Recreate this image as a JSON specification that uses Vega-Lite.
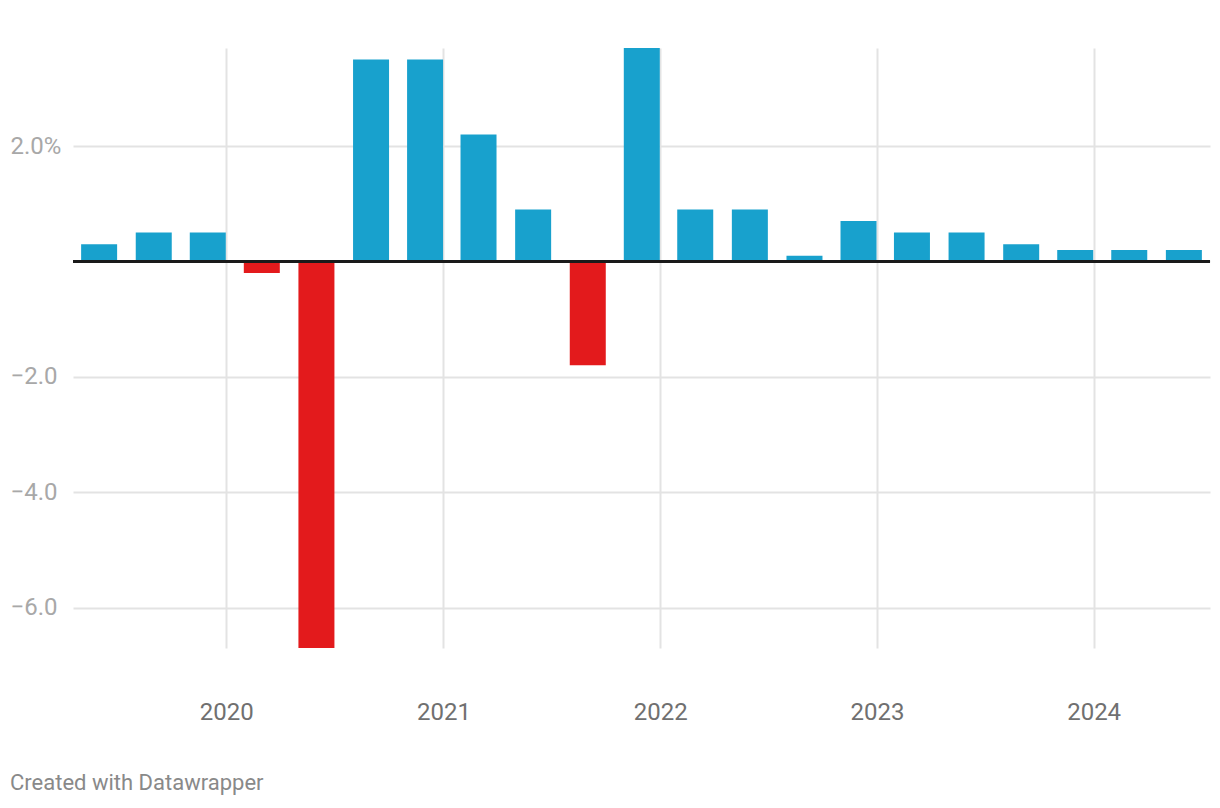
{
  "$schema": "https://vega.github.io/schema/vega-lite/v6.json",
  "width": 1137,
  "height": 600,
  "autosize": {"type": "none"},
  "padding": {"left": 73, "top": 48, "right": 10, "bottom": 160},
  "background": "#ffffff",
  "config": {"view": {"stroke": null}, "font": "Roboto"},
  "title": {
    "text": "Created with Datawrapper",
    "orient": "bottom",
    "anchor": "start",
    "frame": "group",
    "dx": -63,
    "offset": 49,
    "baseline": "top",
    "font": "Roboto",
    "fontSize": 22,
    "fontWeight": "normal",
    "color": "#898989"
  },
  "data": {
    "values": [
      {"date": "2019-06-01", "value": 0.3},
      {"date": "2019-09-01", "value": 0.5},
      {"date": "2019-12-01", "value": 0.5},
      {"date": "2020-03-01", "value": -0.2},
      {"date": "2020-06-01", "value": -6.7},
      {"date": "2020-09-01", "value": 3.5},
      {"date": "2020-12-01", "value": 3.5},
      {"date": "2021-03-01", "value": 2.2},
      {"date": "2021-06-01", "value": 0.9},
      {"date": "2021-09-01", "value": -1.8},
      {"date": "2021-12-01", "value": 3.7},
      {"date": "2022-03-01", "value": 0.9},
      {"date": "2022-06-01", "value": 0.9},
      {"date": "2022-09-01", "value": 0.1},
      {"date": "2022-12-01", "value": 0.7},
      {"date": "2023-03-01", "value": 0.5},
      {"date": "2023-06-01", "value": 0.5},
      {"date": "2023-09-01", "value": 0.3},
      {"date": "2023-12-01", "value": 0.2},
      {"date": "2024-03-01", "value": 0.2},
      {"date": "2024-06-01", "value": 0.2}
    ]
  },
  "layer": [
    {
      "mark": {"type": "bar", "width": 36},
      "encoding": {
        "x": {
          "field": "date",
          "type": "temporal",
          "scale": {
            "type": "utc",
            "padding": 0,
            "domain": [
              {"year": 2019, "month": 4, "date": 18, "utc": true},
              {"year": 2024, "month": 7, "date": 15, "utc": true}
            ]
          },
          "axis": {
            "title": null,
            "values": [
              {"year": 2020, "month": 1, "date": 1, "utc": true},
              {"year": 2021, "month": 1, "date": 1, "utc": true},
              {"year": 2022, "month": 1, "date": 1, "utc": true},
              {"year": 2023, "month": 1, "date": 1, "utc": true},
              {"year": 2024, "month": 1, "date": 1, "utc": true}
            ],
            "format": "%Y",
            "formatType": "utc",
            "domain": false,
            "ticks": false,
            "tickSize": 0,
            "labelPadding": 52,
            "labelFontSize": 24,
            "labelFont": "Roboto",
            "labelColor": "#707070",
            "grid": true,
            "gridColor": "#e3e3e3",
            "gridWidth": 2
          }
        },
        "y": {
          "field": "value",
          "type": "quantitative",
          "scale": {"domain": [-6.7, 3.7], "nice": false, "zero": false},
          "axis": {
            "title": null,
            "values": [-6, -4, -2, 0, 2],
            "labelExpr": "datum.value == 2 ? '2.0%' : datum.value == 0 ? '' : replace(format(datum.value, '.1f'), '-', '−')",
            "domain": false,
            "ticks": false,
            "tickSize": 0,
            "labelAlign": "left",
            "labelPadding": 63,
            "labelFontSize": 24,
            "labelFont": "Roboto",
            "labelColor": "#a8a8a8",
            "grid": true,
            "gridColor": "#e3e3e3",
            "gridWidth": 2
          }
        },
        "color": {
          "condition": {"test": "datum.value < 0", "value": "#e31a1c"},
          "value": "#18a1cd"
        }
      }
    },
    {
      "mark": {"type": "rule", "color": "#1a1a1a", "strokeWidth": 2},
      "encoding": {"y": {"datum": 0}}
    }
  ]
}
